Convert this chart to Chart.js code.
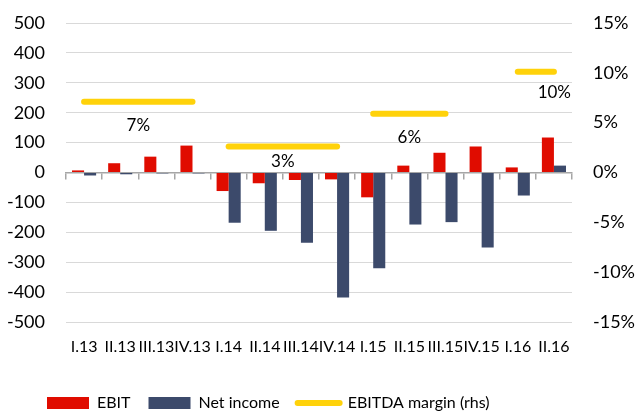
<!DOCTYPE html>
<html>
<head>
<meta charset="utf-8">
<script src="https://cdn.jsdelivr.net/npm/chart.js@4/dist/chart.umd.min.js"></script>
<style>
  html, body { margin: 0; padding: 0; background: #fff; }
  #wrap { width: 638px; height: 412px; position: relative; }
</style>
</head>
<body>
<div id="wrap"><canvas id="c" width="638" height="412"></canvas></div>
<script>
const categories = ['I.13','II.13','III.13','IV.13','I.14','II.14','III.14','IV.14','I.15','II.15','III.15','IV.15','I.16','II.16'];
const ebit = [7, 31, 53, 90, -62, -36, -25, -23, -83, 23, 66, 87, 17, 117];
const netIncome = [-10, -6, -3, -3, -168, -195, -235, -418, -320, -174, -166, -251, -77, 23];
const ebitdaMargin = [7.1, 7.1, 7.1, 7.1, 2.6, 2.6, 2.6, 2.6, 5.9, 5.9, 5.9, null, 10.1, 10.1];
const marginLabels = ['7%', '3%', '6%', '10%'];
const leftTicks = { min: -500, max: 500, step: 100 };
const rightTicks = { min: -15, max: 15, step: 5 };

const RED = '#E00C00';
const NAVY = '#3C4A6B';
const YELLOW = '#FFD20A';
const GRID = '#D9D9D9';
const AXIS = '#A6A6A6';
const CLEAR = 'rgba(0,0,0,0)';
const LEGEND_PAD = 18;

Chart.defaults.font.family = 'Lato';
Chart.defaults.color = '#000';

const marginLabelPlugin = {
  id: 'marginLabels',
  afterDatasetsDraw(chart) {
    const meta = chart.getDatasetMeta(2);
    const data = chart.data.datasets[2].data;
    const ctx = chart.ctx;
    const area = chart.chartArea;
    const runs = [];
    let i = 0;
    while (i < data.length) {
      if (data[i] == null) { i++; continue; }
      let j = i;
      while (j + 1 < data.length && data[j + 1] === data[i]) j++;
      runs.push([i, j]);
      i = j + 1;
    }
    ctx.save();
    ctx.font = '17px Lato';
    ctx.fillStyle = '#000';
    ctx.textBaseline = 'middle';
    runs.forEach((r, k) => {
      const p0 = meta.data[r[0]], p1 = meta.data[r[1]];
      const y = p0.y + (k === 1 ? 15 : (k === 3 ? 21 : 24));
      let x = (p0.x + p1.x) / 2;
      if (k === runs.length - 1) {
        ctx.textAlign = 'right';
        x = area.right - 1;
      } else {
        ctx.textAlign = 'center';
      }
      ctx.fillText(marginLabels[k], x, y);
    });
    ctx.restore();
  }
};

const legendShift = {
  id: 'legendShift',
  afterLayout(chart) {
    const lg = chart.legend;
    if (lg) {
      const h = lg.bottom - lg.top;
      const top = 403 - LEGEND_PAD - 8;
      lg.left = 47 - LEGEND_PAD;
      lg.top = top;
      lg.bottom = top + h;
    }
  }
};

new Chart(document.getElementById('c'), {
  data: {
    labels: categories,
    datasets: [
      { type: 'bar', label: 'EBIT', data: ebit, backgroundColor: RED, xAxisID: 'x', yAxisID: 'y',
        barPercentage: 1, categoryPercentage: 0.667, order: 1 },
      { type: 'bar', label: 'Net income', data: netIncome, backgroundColor: NAVY, xAxisID: 'x', yAxisID: 'y',
        barPercentage: 1, categoryPercentage: 0.667, order: 1 },
      { type: 'line', label: 'EBITDA margin (rhs)', data: ebitdaMargin, borderColor: YELLOW, backgroundColor: YELLOW,
        borderWidth: 6, borderCapStyle: 'round', pointRadius: 0, fill: false, spanGaps: false,
        xAxisID: 'x', yAxisID: 'y1', order: 0,
        segment: { borderColor: c => (c.p0.parsed.y === c.p1.parsed.y ? YELLOW : CLEAR) } }
    ]
  },
  options: {
    responsive: false,
    animation: false,
    layout: { padding: { top: 23, left: 0, right: 0, bottom: 0 } },
    plugins: {
      tooltip: { enabled: false },
      legend: {
        position: 'bottom',
        align: 'start',
        labels: {
          usePointStyle: true,
          pointStyleWidth: 42,
          boxHeight: 12,
          padding: LEGEND_PAD,
          font: { size: 16 },
          color: '#000',
          sort: (a, b) => a.datasetIndex - b.datasetIndex,
          generateLabels(chart) {
            const items = Chart.defaults.plugins.legend.labels.generateLabels(chart);
            items.forEach(it => {
              if (it.datasetIndex < 2) {
                it.pointStyle = 'rect';
                it.lineWidth = 0;
                it.strokeStyle = CLEAR;
              } else {
                it.pointStyle = 'line';
                it.lineWidth = 6;
                it.strokeStyle = YELLOW;
                it.fillStyle = YELLOW;
                it.lineCap = 'round';
              }
            });
            return items;
          }
        }
      }
    },
    scales: {
      x: {
        type: 'category',
        position: 'bottom',
        offset: true,
        grid: { display: false },
        border: { display: false },
        ticks: { autoSkip: false, maxRotation: 0, minRotation: 0, padding: 7, font: { size: 16 }, color: '#000' },
        afterFit(s) { s.height = 46; }
      },
      x2: {
        type: 'category',
        labels: categories,
        position: { y: 0 },
        offset: true,
        grid: { display: true, drawOnChartArea: false, drawTicks: true, tickLength: 6, offset: true, color: AXIS, lineWidth: 1.5 },
        border: { display: true, color: AXIS, width: 1.5 },
        ticks: { display: false }
      },
      y: {
        position: 'left',
        min: leftTicks.min, max: leftTicks.max,
        ticks: { stepSize: leftTicks.step, padding: 0, font: { size: 18 }, color: '#000' },
        grid: { color: c => (c.tick.value === 0 ? CLEAR : GRID), drawTicks: true, tickLength: 21, tickColor: CLEAR, lineWidth: 1 },
        border: { display: false },
        afterFit(s) { s.width = 66; }
      },
      y1: {
        position: 'right',
        min: rightTicks.min, max: rightTicks.max,
        ticks: { stepSize: rightTicks.step, padding: 0, font: { size: 18 }, color: '#000', callback: v => v + '%' },
        grid: { drawOnChartArea: false, drawTicks: true, tickLength: 21, tickColor: CLEAR },
        border: { display: false },
        afterFit(s) { s.width = 66; }
      }
    }
  },
  plugins: [marginLabelPlugin, legendShift]
});
</script>
</body>
</html>
